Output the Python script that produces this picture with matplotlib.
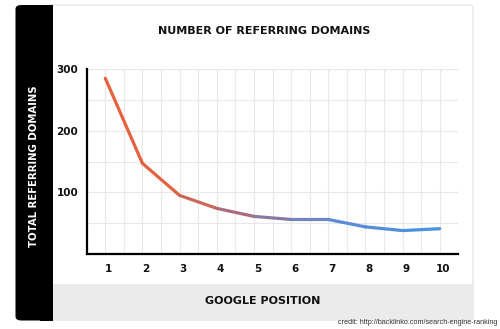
import matplotlib
matplotlib.use("Agg")
import matplotlib.pyplot as plt
import numpy as np
from matplotlib.patches import FancyBboxPatch, Rectangle
from matplotlib.collections import LineCollection
from matplotlib.colors import LinearSegmentedColormap
import matplotlib.transforms as mtransforms

positions = [1, 2, 3, 4, 5, 6, 7, 8, 9, 10]
domains = [285, 147, 95, 74, 61, 56, 56, 44, 38, 41]
y_ticks = [100, 200, 300]
title = "NUMBER OF REFERRING DOMAINS"
x_label = "GOOGLE POSITION"
y_label = "TOTAL REFERRING DOMAINS"
credit = "credit: http://backlinko.com/search-engine-ranking"

W, H = 500, 329
fig = plt.figure(figsize=(W / 100, H / 100), dpi=100)
fig.patch.set_facecolor("white")

def fx(px):
    return px / W

def fy(py):
    return 1 - py / H

def rect_px(x0, y0, x1, y1):
    return fx(x0), fy(y1), fx(x1) - fx(x0), fy(y0) - fy(y1)

# card
x, y, w, h = rect_px(45, 5, 473, 320)
card = FancyBboxPatch((x, y), w, h, boxstyle="round,pad=0,rounding_size=0.008",
                      transform=fig.transFigure, facecolor="white",
                      edgecolor="#ebebeb", linewidth=1.2, zorder=0)
fig.add_artist(card)
# gray band
x, y, w, h = rect_px(53, 284, 472.5, 320)
fig.add_artist(Rectangle((x, y), w, h, transform=fig.transFigure,
                         facecolor="#ebebeb", edgecolor="none", zorder=0.5))
# black band
x, y, w, h = rect_px(15.5, 5, 53, 320.5)
fig.add_artist(FancyBboxPatch((x, y), w, h, boxstyle="round,pad=0,rounding_size=0.012",
                              transform=fig.transFigure, facecolor="black",
                              edgecolor="none", zorder=1))
x, y, w, h = rect_px(40, 5, 53, 320.5)
fig.add_artist(Rectangle((x, y), w, h, transform=fig.transFigure,
                         facecolor="black", edgecolor="none", zorder=1))

ax = fig.add_axes([fx(86.7), fy(254), fx(458.3) - fx(86.7), fy(69) - fy(254)])
ax.set_facecolor("white")
ax.set_xlim(0.5, 10.5)
ax.set_ylim(0, 300)
ax.set_xticks(positions)
ax.set_yticks(y_ticks)
ax.set_xticks(np.arange(0.5, 10.51, 1.0), minor=True)
ax.set_yticks([50, 150, 250], minor=True)
ax.grid(which="both", color="#e8e8e8", linewidth=0.8)
ax.set_axisbelow(True)
ax.set_xticklabels([str(p) for p in positions], fontsize=7.5, fontweight="bold",
                   color="#111111")
ax.set_yticklabels([str(t) for t in y_ticks], fontsize=7.5, fontweight="bold",
                   color="#111111")
ax.tick_params(axis="both", which="both", length=0)
ax.tick_params(axis="x", pad=7.5)
ax.tick_params(axis="y", pad=6)
offset = mtransforms.ScaledTranslation(3.5 / 100, 0, fig.dpi_scale_trans)
for lbl in ax.get_xticklabels():
    lbl.set_transform(lbl.get_transform() + offset)
for s in ["top", "right"]:
    ax.spines[s].set_visible(False)
for s in ["left", "bottom"]:
    ax.spines[s].set_color("black")
    ax.spines[s].set_linewidth(1.6)

cmap = LinearSegmentedColormap.from_list(
    "grad", [(0, "#E9603A"), (0.22, "#DE6445"), (0.42, "#A06E86"),
             (0.68, "#5E8AD5"), (1, "#4A90E2")])
pts = np.column_stack([positions, domains])
segs = np.stack([pts[:-1], pts[1:]], axis=1)
mids = (np.array(positions[:-1]) + np.array(positions[1:])) / 2
cols = cmap((mids - 1) / 9)
lc = LineCollection(segs, colors=cols, linewidths=2.3, capstyle="round",
                    joinstyle="round", zorder=3)
ax.add_collection(lc)

fig.text(fx(264), fy(31), title, ha="center", va="center", fontsize=8,
         fontweight="bold", color="#111111")
fig.text(fx(263), fy(301), x_label, ha="center", va="center", fontsize=8,
         fontweight="bold", color="#111111")
fig.text(fx(34), fy(166), y_label, ha="center", va="center", fontsize=7.3,
         fontweight="bold", color="white", rotation=90)
fig.text(fx(497), fy(322), credit, ha="right", va="center", fontsize=5.2,
         family="Liberation Sans", color="#333333")

fig.savefig("out.png", dpi=100)
